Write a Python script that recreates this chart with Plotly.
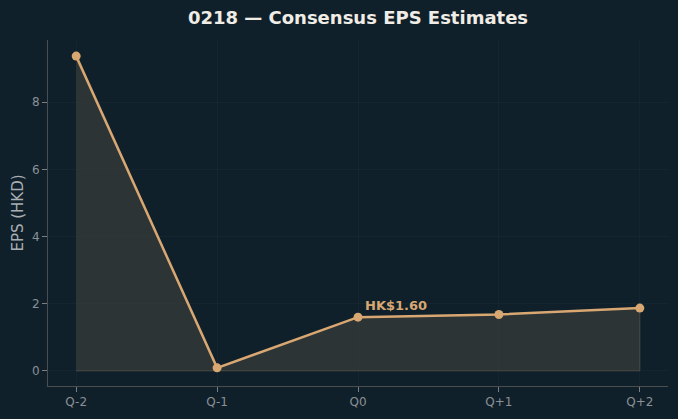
import plotly.graph_objects as go

quarters = ["Q-2", "Q-1", "Q0", "Q+1", "Q+2"]
eps = [9.37, 0.09, 1.60, 1.68, 1.87]
current_label = "HK$1.60"
current_idx = 2

bg = "#10202a"
line_c = "#d8a772"
fill_c = "rgba(70,70,62,0.55)"

fig = go.Figure()
# shaded area polygon
fig.add_trace(go.Scatter(
    x=quarters + [quarters[-1], quarters[0]],
    y=eps + [0, 0],
    fill="toself", fillcolor=fill_c,
    line=dict(color="rgba(90,90,80,0.6)", width=1),
    mode="lines", hoverinfo="skip", showlegend=False))
fig.add_trace(go.Scatter(
    x=quarters, y=eps, mode="lines+markers",
    line=dict(color=line_c, width=2.5),
    marker=dict(size=9, color=line_c),
    showlegend=False))

fig.add_annotation(x=quarters[current_idx], y=eps[current_idx], text="<b>" + current_label + "</b>",
                   showarrow=False, xanchor="left", yanchor="bottom", xshift=5, yshift=2,
                   font=dict(color=line_c, size=13, family="DejaVu Sans"))

fig.update_layout(
    width=678, height=419,
    paper_bgcolor=bg, plot_bgcolor=bg,
    margin=dict(l=48, r=10, t=40, b=33),
    title=dict(text="<b>0218 — Consensus EPS Estimates</b>", x=0.528, xanchor="center", y=0.957, yanchor="middle",
               font=dict(color="#f0ede6", size=18, family="DejaVu Sans")),
    font=dict(family="DejaVu Sans", color="#8a9096"),
    xaxis=dict(range=[-0.2, 4.2], showline=True, linecolor="#4a4e4f", linewidth=1,
               ticks="outside", tickcolor="#7a7e80", ticklen=5,
               gridcolor="rgba(255,255,255,0.025)", zeroline=False,
               tickfont=dict(size=12, color="#8a9096")),
    yaxis=dict(range=[-0.45, 9.85], showline=True, linecolor="#4a4e4f", linewidth=1,
               ticks="outside", tickcolor="#7a7e80", ticklen=5, dtick=2,
               gridcolor="rgba(255,255,255,0.025)", zeroline=False,
               tickfont=dict(size=12, color="#8a9096"),
               title=dict(text="EPS (HKD)", font=dict(size=15, color="#a8aeb2"), standoff=4)),
)

fig.write_html("out.html")
